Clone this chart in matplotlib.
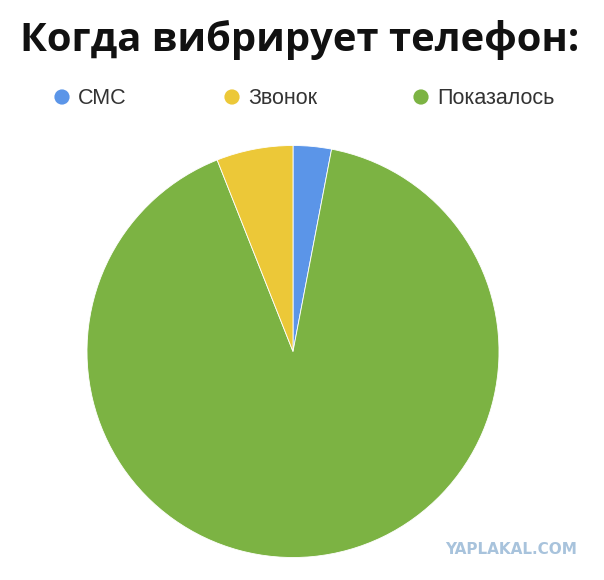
import matplotlib
matplotlib.use("Agg")
import matplotlib.pyplot as plt

categories = ["СМС", "Звонок", "Показалось"]
values = [3, 6, 91]
colors = ["#5b95e8", "#ecc838", "#7cb343"]
title = "Когда вибрирует телефон:"
watermark = "YAPLAKAL.COM"

W, H = 604, 580
fig = plt.figure(figsize=(W / 100, H / 100), dpi=100)
fig.patch.set_facecolor("white")

fig.text(300 / W, 1 - 40 / H, title, ha="center", va="center",
         fontsize=28.8, fontweight="bold", family=["Open Sans", "DejaVu Sans"], color="#111111")

# legend
leg_ax = fig.add_axes([0, 0, 1, 1], facecolor="none")
leg_ax.set_xlim(0, W)
leg_ax.set_ylim(H, 0)
leg_ax.axis("off")
marker_x = [62, 232, 421]
for cat, col, mx in zip(categories, colors, marker_x):
    leg_ax.scatter([mx], [97], s=120, color=col, edgecolor="none")
    leg_ax.text(mx + 16, 98, cat, ha="left", va="center", fontsize=15.5,
                family=["Liberation Sans", "DejaVu Sans"], color="#333333")

# pie
cx, cy, r = 293, 351.5, 206
ax = fig.add_axes([(cx - r) / W, (H - cy - r) / H, 2 * r / W, 2 * r / H])
order = [0, 2, 1]
ax.pie([values[i] for i in order], colors=[colors[i] for i in order],
       startangle=90, counterclock=False, radius=1,
       wedgeprops=dict(edgecolor="white", linewidth=0.6))
ax.set_xlim(-1, 1)
ax.set_ylim(-1, 1)
ax.set_aspect("equal")
ax.axis("off")

fig.text(511 / W, 1 - 550 / H, watermark, ha="center", va="center",
         fontsize=11, fontweight="bold", family=["DejaVu Sans"], color="#a8c3dc")

fig.savefig("out.png", dpi=100, facecolor="white")
